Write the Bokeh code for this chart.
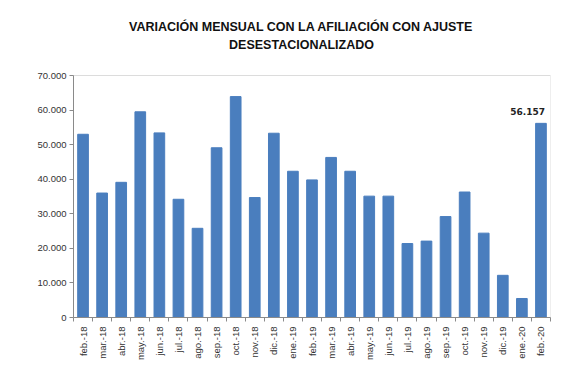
import numpy as np
from bokeh.plotting import figure
from bokeh.models import FixedTicker, Label, Range1d, ColumnDataSource, BoxAnnotation
from bokeh.embed import file_html
from bokeh.resources import INLINE

months = ["feb.-18", "mar.-18", "abr.-18", "may.-18", "jun.-18", "jul.-18", "ago.-18",
          "sep.-18", "oct.-18", "nov.-18", "dic.-18", "ene.-19", "feb.-19", "mar.-19",
          "abr.-19", "may.-19", "jun.-19", "jul.-19", "ago.-19", "sep.-19", "oct.-19",
          "nov.-19", "dic.-19", "ene.-20", "feb.-20"]
values = [53000, 36000, 39100, 59500, 53400, 34200, 25800, 49100, 63900, 34700, 53300,
          42300, 39800, 46300, 42300, 35100, 35100, 21400, 22100, 29200, 36300, 24400,
          12200, 5500, 56157]
y_ticks = [0, 10000, 20000, 30000, 40000, 50000, 60000, 70000]
y_tick_labels = ["0", "10.000", "20.000", "30.000", "40.000", "50.000", "60.000", "70.000"]
title_lines = ["VARIACIÓN MENSUAL CON LA AFILIACIÓN CON AJUSTE", "DESESTACIONALIZADO"]
last_label = "56.157"

n = len(months)
xc = np.arange(n) + 0.5
src = ColumnDataSource(dict(x=xc, top=values, m=months))

# layout in pixels
W, H = 572, 375
BL, BR, BT, BB = 73, 22, 10, 58
AXIS_TOP_PX = 75            # pixel row of the top of the value axis (70.000)
YMAX = y_ticks[-1]
frame_bottom = H - BB
y_end = YMAX * (frame_bottom - BT) / (frame_bottom - AXIS_TOP_PX)

p = figure(width=W, height=H, output_backend="svg", toolbar_location=None,
           x_range=Range1d(0, n), y_range=Range1d(0, y_end),
           min_border_left=BL, min_border_right=BR, min_border_top=BT, min_border_bottom=BB)

p.vbar(x="x", top="top", width=0.56, source=src, fill_color="#4A7EBE", line_color="#4A7EBE")

p.xgrid.visible = False
p.ygrid.visible = False
p.outline_line_color = None
p.background_fill_color = "white"
p.border_fill_color = "white"

# plot-area border (only up to the top of the value axis)
p.add_layout(BoxAnnotation(left=0, right=n, bottom=0, top=YMAX, fill_alpha=0,
                           fill_color=None, line_color="#8a8a8a", line_width=1))

ya = p.yaxis[0]
ya.bounds = (0, YMAX)
ya.ticker = FixedTicker(ticks=y_ticks, minor_ticks=[])
ya.major_label_overrides = {t: l for t, l in zip(y_ticks, y_tick_labels)}
ya.axis_line_color = "#8a8a8a"
ya.major_tick_line_color = "#8a8a8a"
ya.major_tick_in = 0
ya.major_tick_out = 4
ya.minor_tick_line_color = None
ya.major_label_text_font = "Liberation Sans"
ya.major_label_text_font_size = "9.5px"
ya.major_label_text_color = "#333333"
ya.major_label_standoff = 3

xa = p.xaxis[0]
xa.ticker = FixedTicker(ticks=list(xc), minor_ticks=list(np.arange(n + 1)))
xa.major_label_overrides = {float(x): m for x, m in zip(xc, months)}
xa.major_label_orientation = np.pi / 2
xa.axis_line_color = "#8a8a8a"
xa.major_tick_line_color = None
xa.major_tick_in = 0
xa.major_tick_out = 0
xa.minor_tick_line_color = "#8a8a8a"
xa.minor_tick_in = 0
xa.minor_tick_out = 4
xa.major_label_text_font = "Liberation Sans"
xa.major_label_text_font_size = "9.5px"
xa.major_label_text_color = "#333333"
xa.major_label_standoff = 5

p.add_layout(Label(x=xc[-1], y=values[-1], text=last_label, text_align="right",
                   text_baseline="alphabetic", x_offset=4, y_offset=12,
                   text_font="DejaVu Sans", text_font_style="bold",
                   text_font_size="9px", text_color="#222222"))

# title lines, placed inside the (extended) plot area above the value axis
title_x = n * (301 - BL) / (W - BL - BR)
for i, line in enumerate(title_lines):
    p.add_layout(Label(x=title_x, y=YMAX, text=line, text_align="center",
                       text_baseline="middle", y_offset=(AXIS_TOP_PX - 26) - 18 * i,
                       text_font="Liberation Sans", text_font_style="bold",
                       text_font_size="12.5px", text_color="#111111"))

open("out.html", "w").write(file_html(p, INLINE))
